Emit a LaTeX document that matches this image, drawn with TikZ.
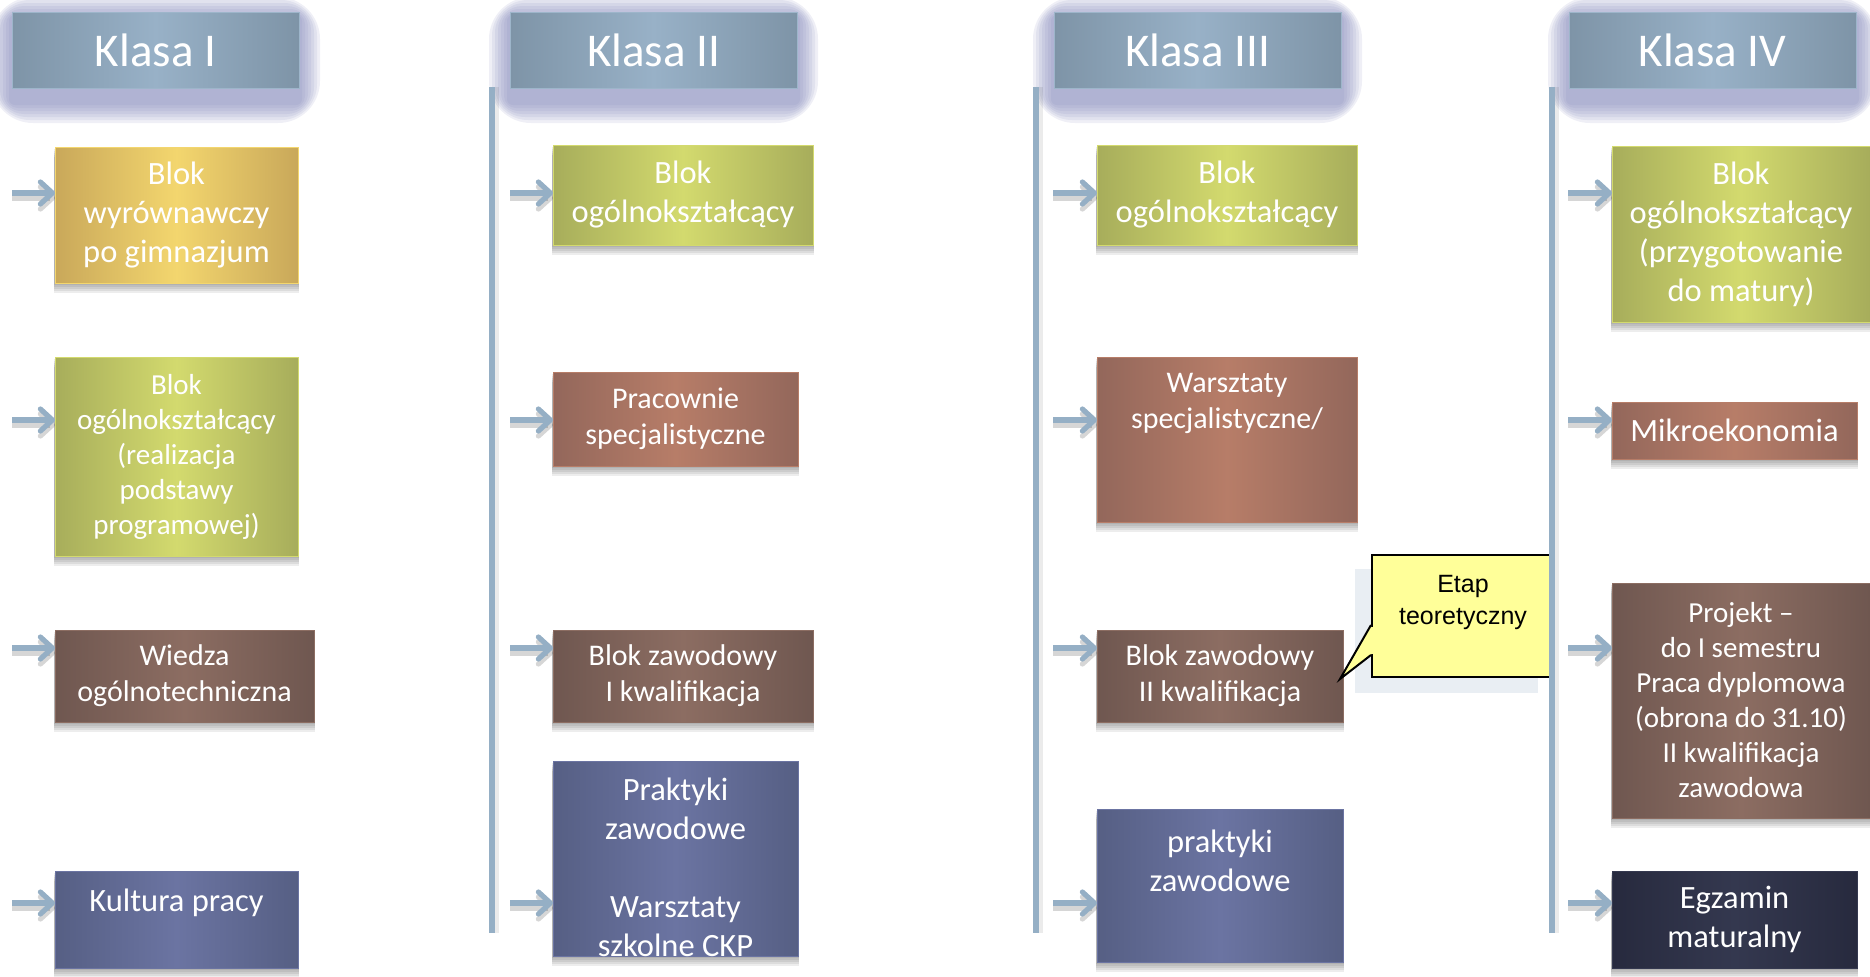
\documentclass[tikz,border=0pt]{standalone}
\usepackage{fontspec}
\setmainfont{Carlito}
\newfontfamily\calloutfamily{Liberation Sans}
\usetikzlibrary{arrows.meta,calc,positioning,backgrounds}
\newdimen\pxdim
\pxdim=0.5pt
\newcommand{\hdrfont}{\fontsize{23.5}{28}\selectfont}
\newcommand{\boxfont}{\fontsize{16.25}{19.5}\selectfont}
\newcommand{\boxfontM}{\fontsize{15}{18}\selectfont}
\newcommand{\boxfontS}{\fontsize{14.5}{17.5}\selectfont}
\definecolor{hdrdark}{HTML}{7E94A7}
\definecolor{hdrlight}{HTML}{98B1C7}
\definecolor{hdrline}{HTML}{9DB5CA}
\definecolor{glowcol}{HTML}{7A7FB5}
\definecolor{lineblue}{HTML}{95AFC5}
\definecolor{yeldark}{HTML}{C9A85A}
\definecolor{yellight}{HTML}{F3D66E}
\definecolor{grndark}{HTML}{A7AD5B}
\definecolor{grnlight}{HTML}{D3DA6E}
\definecolor{brndark}{HTML}{6F5750}
\definecolor{brnlight}{HTML}{8C6D62}
\definecolor{reddark}{HTML}{93675B}
\definecolor{redlight}{HTML}{B77D68}
\definecolor{bludark}{HTML}{565F84}
\definecolor{blulight}{HTML}{6B74A2}
\definecolor{navydark}{HTML}{272A3E}
\definecolor{navylight}{HTML}{34384F}
\definecolor{calloutfill}{HTML}{FFFF99}
\definecolor{calloutbg}{HTML}{E9EEF3}
\tikzstyle{element}=[
  rectangle,
  anchor=north west,
  inner sep=0pt,
  outer sep=0pt,
  align=center,
  text=white,
  font=\boxfont,
  line width=.5pt,
]
\tikzstyle{header}=[
  element,
  minimum width=287\pxdim,
  minimum height=76\pxdim,
  font=\hdrfont,
  left color=hdrdark,
  right color=hdrdark,
  middle color=hdrlight,
  draw=hdrline,
]
\tikzstyle{yellowbox}=[element, left color=yeldark, right color=yeldark, middle color=yellight, draw=yellight]
\tikzstyle{greenbox}=[element, left color=grndark, right color=grndark, middle color=grnlight, draw=grnlight]
\tikzstyle{brownbox}=[element, left color=brndark, right color=brndark, middle color=brnlight, draw=brnlight]
\tikzstyle{redbox}=[element, left color=reddark, right color=reddark, middle color=redlight, draw=redlight]
\tikzstyle{bluebox}=[element, left color=bludark, right color=bludark, middle color=blulight, draw=blulight]
\tikzstyle{navybox}=[element, left color=navydark, right color=navydark, middle color=navylight, draw=navylight]
\tikzstyle{arrow}=[
  draw=lineblue,
  line width=2.6pt,
  -{Straight Barb[length=6pt,width=11pt,round]},
]
\tikzstyle{arrowshadow}=[arrow, draw=black, opacity=.16, transform canvas={yshift=-2.5pt}]
\tikzstyle{vline}=[draw=lineblue, line width=2.6pt]
\tikzstyle{vlineshadow}=[draw=black, opacity=.08, line width=2.6pt, transform canvas={xshift=2pt}]
\tikzstyle{callout}=[
  rectangle,
  anchor=north west,
  draw=black,
  line width=1pt,
  fill=calloutfill,
  minimum width=182\pxdim,
  minimum height=122\pxdim,
  inner sep=0pt,
  align=center,
  font={\calloutfamily\fontsize{12.5}{16}\selectfont},
]
\tikzset{
  x=0.5pt,
  y=-0.5pt,
}

\begin{document}
\begin{tikzpicture}
  \useasboundingbox (0,0) rectangle (1870,976);
  %% headers
  \node (klasaI) [header] at (12,12) {Klasa I};
  \node (klasaII) [header] at (510,12) {Klasa II};
  \node (klasaIII) [header] at (1054,12) {Klasa III};
  \node (klasaIV) [header] at (1569,12) {Klasa IV};
  %% klasa I
  \node (wyrow) [yellowbox, minimum width=243\pxdim, minimum height=136\pxdim] at (55,147) {Blok\\wyrównawczy\\po gimnazjum};
  \node (ogolI) [greenbox, font=\boxfontS, minimum width=243\pxdim, minimum height=199\pxdim] at (55,357) {Blok\\ogólnokształcący\\(realizacja\\podstawy\\programowej)};
  \node (wiedza) [brownbox, font=\boxfontM, minimum width=259\pxdim, minimum height=92\pxdim] at (55,630) {Wiedza\\ogólnotechniczna};
  \node (kultura) [bluebox, minimum width=243\pxdim, minimum height=97\pxdim] at (55,871) {Kultura pracy\\~};
  %% klasa II
  \node (ogolII) [greenbox, minimum width=260\pxdim, minimum height=100\pxdim] at (553,145) {Blok\\ogólnokształcący};
  \node (pracownie) [redbox, font=\boxfontM, minimum width=245\pxdim, minimum height=94\pxdim] at (553,372) {Pracownie\\specjalistyczne};
  \node (zawodI) [brownbox, font=\boxfontM, minimum width=260\pxdim, minimum height=92\pxdim] at (553,630) {Blok zawodowy\\I kwalifikacja};
  \node (praktykiII) [bluebox, minimum width=245\pxdim, minimum height=189\pxdim] at (553,761) {~\\Praktyki\\zawodowe\\~\\Warsztaty\\szkolne CKP};
  %% klasa III
  \node (ogolIII) [greenbox, minimum width=260\pxdim, minimum height=100\pxdim] at (1097,145) {Blok\\ogólnokształcący};
  \node (warsztaty) [redbox, font=\boxfontM, minimum width=260\pxdim, minimum height=165\pxdim] at (1097,357) {Warsztaty\\specjalistyczne/\\~\\[6\pxdim]~};
  \node (zawodII) [brownbox, font=\boxfontM, minimum width=246\pxdim, minimum height=92\pxdim] at (1097,630) {Blok zawodowy\\II kwalifikacja};
  \node (praktykiIII) [bluebox, minimum width=246\pxdim, minimum height=153\pxdim] at (1097,809) {praktyki\\zawodowe\\[10\pxdim]~};
  %% klasa IV
  \node (ogolIV) [greenbox, minimum width=258\pxdim, minimum height=176\pxdim] at (1612,146) {Blok\\ogólnokształcący\\(przygotowanie\\do matury)};
  \node (mikro) [redbox, minimum width=245\pxdim, minimum height=57\pxdim] at (1612,402) {Mikroekonomia};
  \node (projekt) [brownbox, font=\boxfontS, minimum width=258\pxdim, minimum height=235\pxdim] at (1612,583) {Projekt --\\do I semestru\\Praca dyplomowa\\(obrona do 31.10)\\II kwalifikacja\\zawodowa};
  \node (egzamin) [navybox, minimum width=245\pxdim, minimum height=97\pxdim] at (1612,871) {Egzamin\\maturalny};
  %% callout
  \node (etap) [callout] at (1371,554) {Etap\\teoretyczny\\~};
  \coordinate (etap-tip) at (1340,679);
  \coordinate (etap-a) at ($(etap.north west)+(0,71)$);
  \coordinate (etap-b) at ($(etap.north west)+(0,101)$);
  \fill [calloutfill] (etap-a) -- (etap-tip) -- (etap-b) -- cycle;
  \fill [calloutfill] ($(etap-a)+(-1.5,1.5)$) rectangle ($(etap-b)+(3,-1.5)$);
  \draw [line width=1pt, line join=miter] (etap-a) -- (etap-tip) -- (etap-b);
  %% time lines
  \foreach \l/\x in {II/492, III/1036, IV/1552} {
    \coordinate (top-\l) at (\x,87);
    \coordinate (bot-\l) at (\x,933);
    \draw [vlineshadow] (top-\l) -- (bot-\l);
    \draw [vline] (top-\l) -- (bot-\l);
  }
  %% arrows
  \foreach \b/\x/\y in {wyrow/12/193, ogolI/12/420, wiedza/12/648, kultura/12/903,
      ogolII/510/193, pracownie/510/420, zawodI/510/648, praktykiII/510/903,
      ogolIII/1053/193, warsztaty/1053/420, zawodII/1053/648, praktykiIII/1053/903,
      ogolIV/1568/193, mikro/1568/420, projekt/1568/648, egzamin/1568/903} {
    \coordinate (s-\b) at (\x,\y);
    \draw [arrowshadow] (s-\b) -- (s-\b -| \b.west);
    \draw [arrow] (s-\b) -- (s-\b -| \b.west);
  }
  %% glow and shadows
  \begin{scope}[on background layer]
    \fill [calloutbg] (1355,569) rectangle (1538,693);
    \foreach \h in {klasaI, klasaII, klasaIII, klasaIV}
      \foreach \g in {3,6,...,21}
        \fill [glowcol, opacity=.12, rounded corners=\g pt]
          ([shift={(-\g,-\g+6)}]\h.north west) rectangle ([shift={(\g,\g+14)}]\h.south east);
    \foreach \b in {wyrow, ogolI, wiedza, kultura, ogolII, pracownie, zawodI, praktykiII,
        ogolIII, warsztaty, zawodII, praktykiIII, ogolIV, mikro, projekt, egzamin}
      \foreach \s in {2,4,...,10}
        \fill [black, opacity=.07]
          ([shift={(-1,\s)}]\b.north west) rectangle ([shift={(1,\s)}]\b.south east);
  \end{scope}
\end{tikzpicture}
\end{document}
